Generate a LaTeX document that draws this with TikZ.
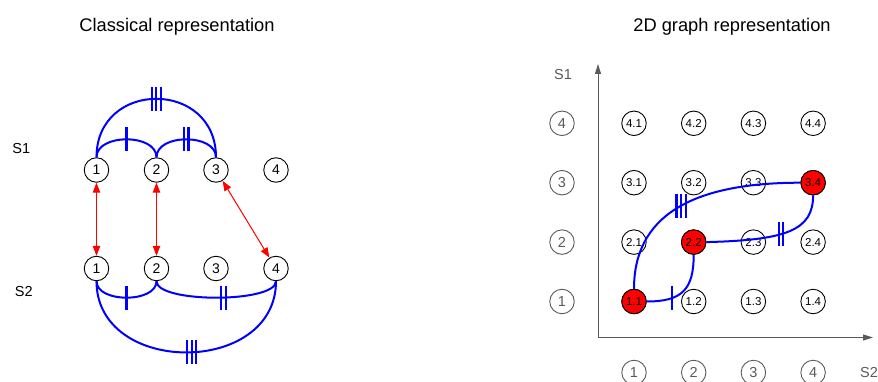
\documentclass[tikz,border=0pt]{standalone}
\usepackage{fontspec}
\setmainfont{Liberation Sans}
\usetikzlibrary{arrows.meta}

\definecolor{axisgray}{RGB}{90,90,90}
\definecolor{labelgray}{RGB}{90,90,90}
\definecolor{linkblue}{RGB}{0,0,255}
\definecolor{linkred}{RGB}{255,0,0}

\tikzset{
  statenode/.style={circle, draw=black, line width=0.9pt, fill=white, minimum size=24.5pt, inner sep=0pt, font=\fontsize{14}{14}\selectfont},
  gridnode/.style={statenode, font=\fontsize{11.5}{11.5}\selectfont},
  activenode/.style={gridnode, fill=linkred},
  axislabel/.style={circle, draw=labelgray, line width=0.9pt, text=labelgray, minimum size=24.5pt, inner sep=0pt, font=\fontsize{14.5}{14.5}\selectfont},
  titletext/.style={anchor=base, font=\fontsize{18.3}{22}\selectfont},
  seqlabel/.style={anchor=base, font=\fontsize{14.5}{16}\selectfont},
  link/.style={draw=linkblue, line width=2pt},
  tickline/.style={draw=linkblue, line width=2.2pt},
  pairarrow/.style={draw=linkred, line width=1pt, {Triangle[length=10pt,width=7.5pt]}-{Triangle[length=10pt,width=7.5pt]}},
  axis/.style={draw=axisgray, line width=1pt, -{Triangle[length=10pt,width=6pt]}},
  tick1/.pic={\draw[tickline] (0,-12) -- (0,12);},
  tick2/.pic={\draw[tickline] (-2.3,-12) -- (-2.3,12) (2.3,-12) -- (2.3,12);},
  tick3/.pic={\draw[tickline] (-4.6,-12) -- (-4.6,12) (0,-12) -- (0,12) (4.6,-12) -- (4.6,12);}
}

\begin{document}
\begin{tikzpicture}[x=1pt, y=-1pt]
\useasboundingbox (0,0) rectangle (878,382);

% ---------- classical representation ----------
\node[titletext] (titleA) at (177,31.7) {Classical representation};
\node[seqlabel] (sA) at (21.3,154) {S1};
\node[seqlabel] (sB) at (23.7,296.7) {S2};

\foreach \i/\x in {1/96.5, 2/156.5, 3/216, 4/276} {
  \node[statenode] (a\i) at (\x,170) {\i};
  \node[statenode] (b\i) at (\x,268.5) {\i};
}

% alignment pairs between the two sequences
\draw[pairarrow] (a1) -- (b1);
\draw[pairarrow] (a2) -- (b2);
\draw[pairarrow] (a3) -- (b4);

% arcs above S1
\path[link] (a1.north) .. controls +(0,-24) and +(0,-24) .. coordinate[pos=0.5] (ta1) (a2.north);
\path[link] (a2.north) .. controls +(0,-24) and +(0,-24) .. coordinate[pos=0.5] (ta2) (a3.north);
\path[link] (a1.north) .. controls +(0,-78) and +(0,-78) .. coordinate[pos=0.5] (ta3) (a3.north);
\pic at (ta1) {tick1};
\pic at (ta2) {tick2};
\pic at (ta3) {tick3};

% arcs below S2
\path[link] (b1.south) .. controls +(0,22) and +(0,22) .. coordinate[pos=0.5] (tb1) (b2.south);
\path[link] (b2.south) .. controls +(0,22) and +(0,22) .. coordinate[pos=0.54] (tb2) (b4.south);
\path[link] (b1.south) .. controls +(0,95) and +(0,95) .. coordinate[pos=0.52] (tb3) (b4.south);
\pic at (tb1) {tick1};
\pic at (tb2) {tick2};
\pic at (tb3) {tick3};

% ---------- 2D graph representation ----------
\node[titletext] (titleB) at (732,31.7) {2D graph representation};

\coordinate (origin) at (598,337.5);
\coordinate (ytip) at (598,64);
\coordinate (xtip) at (873,337.5);
\draw[axis] (origin) -- (ytip);
\draw[axis] (origin) -- (xtip);
\node[seqlabel, text=labelgray] (sA2) at (563,80) {S1};
\node[seqlabel, text=labelgray] (sB2) at (869,377.3) {S2};

\foreach \r/\y in {1/301.5, 2/242.1, 3/182.7, 4/123.3} {
  \node[axislabel] (row\r) at (562,\y) {\r};
}
\foreach \c/\x in {1/634, 2/693.7, 3/753.4, 4/813.1} {
  \node[axislabel] (col\c) at (\x,372.5) {\c};
}

\foreach \r/\y in {1/301.5, 2/242.1, 3/182.7, 4/123.3} {
  \foreach \c/\x in {1/634, 2/693.7, 3/753.4, 4/813.1} {
    \node[gridnode] (g\r\c) at (\x,\y) {\r.\c};
  }
}
\node[activenode] at (g11) {1.1};
\node[activenode] at (g22) {2.2};
\node[activenode] at (g34) {3.4};

% paths through the grid
\path[link] (g11.east) .. controls +(35,0) and +(0,35) .. coordinate[pos=0.3] (tg1) (g22.south);
\path[link] (g22.east) .. controls +(80,-2) and +(0,35) .. coordinate[pos=0.42] (tg2) (g34.south);
\path[link] (g11.north) .. controls +(0,-72) and +(-110,0) .. coordinate[pos=0.53] (tg3) (g34.west);
\pic at (tg1) {tick1};
\pic at (tg2) {tick2};
\pic at (tg3) {tick3};

\end{tikzpicture}
\end{document}
